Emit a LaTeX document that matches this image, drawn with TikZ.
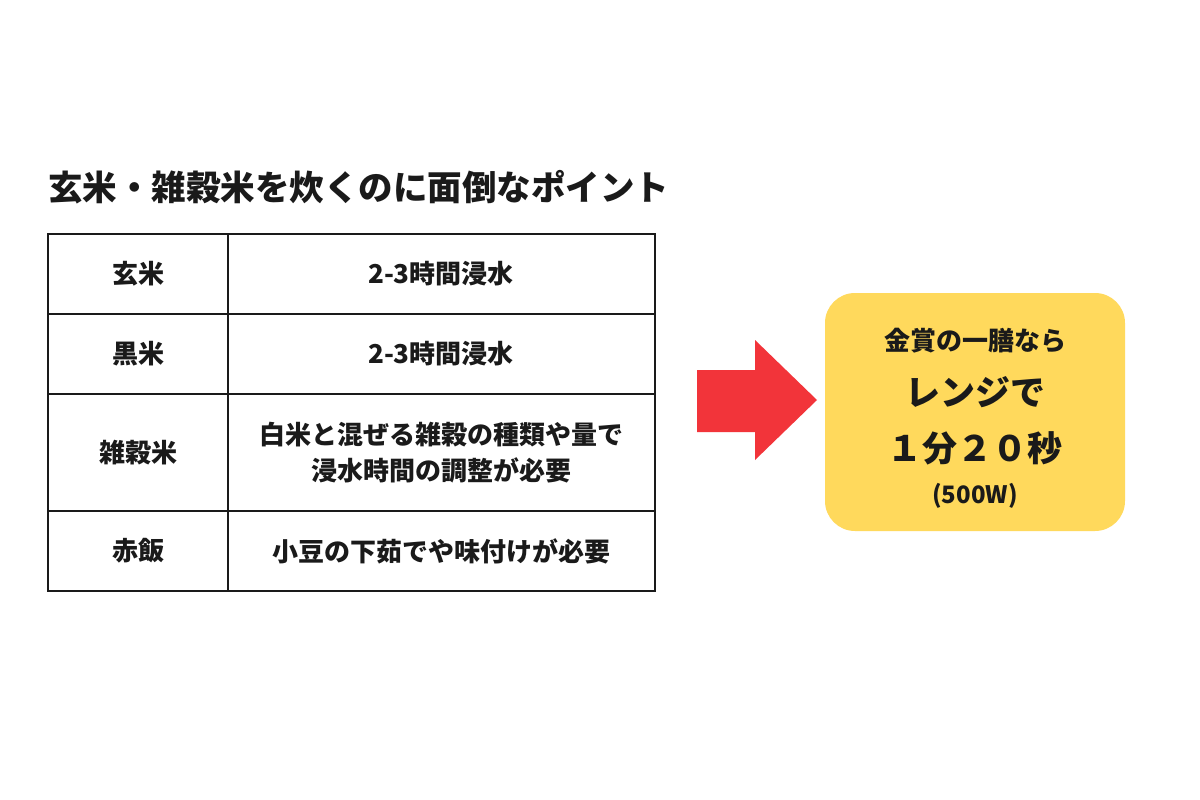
\documentclass[tikz,border=0pt]{standalone}
\usepackage{fontspec}
\setmainfont{Noto Sans CJK JP}
\newfontfamily\cjk{Noto Sans CJK JP}
\definecolor{boxy}{HTML}{FFD95C}
\definecolor{arrred}{HTML}{F2343A}
\definecolor{ink}{HTML}{1A1A1A}
\tikzset{cell/.style={font=\cjk\bfseries\fontsize{26}{36}\selectfont, text=ink, align=center}}
\begin{document}
\begin{tikzpicture}[x=1pt,y=-1pt]
\useasboundingbox[fill=white] (0,0) rectangle (1200,800);
\node[anchor=west, font=\cjk\bfseries\fontsize{34.5}{40}\selectfont, text=ink, inner sep=0pt] (title) at (48,187) {玄米・雑穀米を炊くのに面倒なポイント};
\draw[line width=2pt, ink] (48,234) rectangle (655,591);
\foreach \y in {314,394,511} \draw[line width=2pt, ink] (48,\y) -- (655,\y);
\draw[line width=2pt, ink] (228,234) -- (228,591);
\node[cell] (a1) at (138,274) {玄米};
\node[cell] (b1) at (441,274) {2-3時間浸水};
\node[cell] (a2) at (138,354) {黒米};
\node[cell] (b2) at (441,354) {2-3時間浸水};
\node[cell] (a3) at (138,453) {雑穀米};
\node[cell] (b3) at (441,453) {白米と混ぜる雑穀の種類や量で\\浸水時間の調整が必要};
\node[cell] (a4) at (138,551) {赤飯};
\node[cell] (b4) at (441,551) {小豆の下茹でや味付けが必要};
\fill[arrred] (697,370) -- (755,370) -- (755,340) -- (817,400) -- (755,460) -- (755,432) -- (697,432) -- cycle;
\fill[boxy, rounded corners=30pt] (825,293) rectangle (1125,531);
\node[font=\cjk\bfseries\fontsize{26}{30}\selectfont, text=ink] (t1) at (975,341) {金賞の一膳なら};
\node[font=\cjk\bfseries\fontsize{35}{40}\selectfont, text=ink] (t2) at (975,392) {レンジで};
\node[font=\cjk\bfseries\fontsize{35}{40}\selectfont, text=ink] (t3) at (975,448) {１分２０秒};
\node[font=\cjk\bfseries\fontsize{24}{28}\selectfont, text=ink] (t4) at (975,496) {(500W)};
\end{tikzpicture}
\end{document}
